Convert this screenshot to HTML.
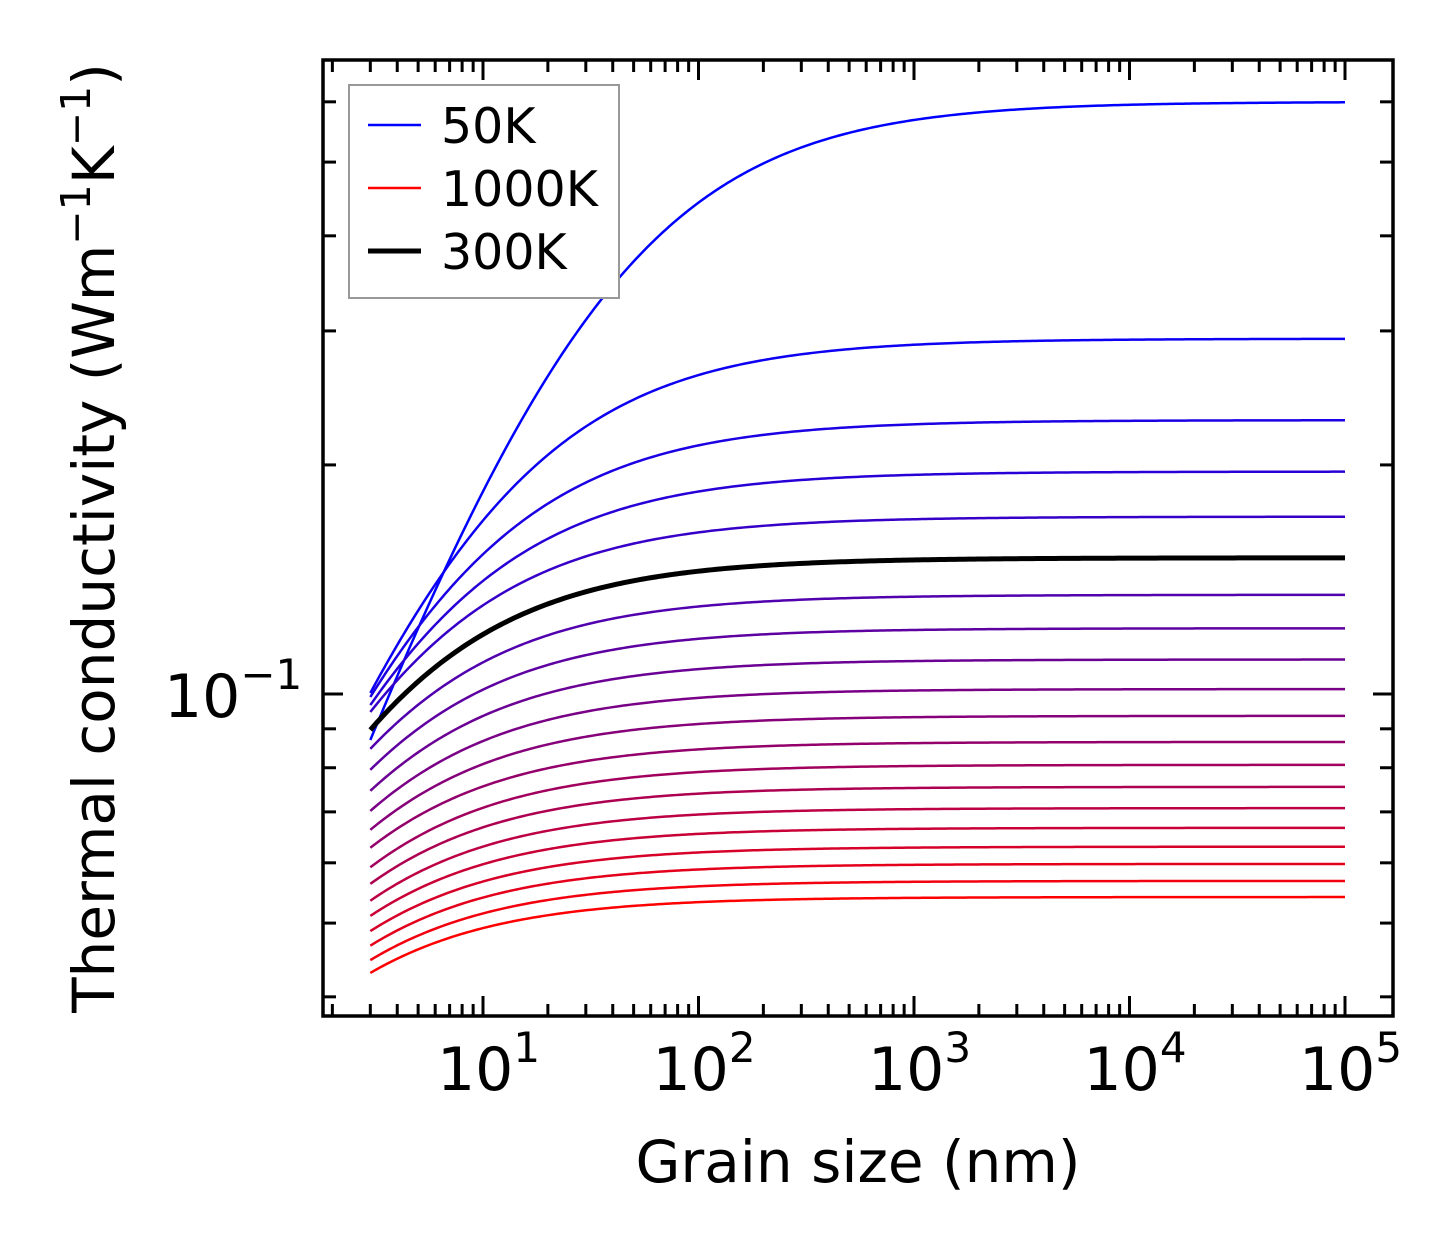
<!DOCTYPE html>
<html><head><meta charset="utf-8"><style>
body{margin:0;background:#fff;}
svg{display:block;font-family:"DejaVu Sans","Liberation Sans",sans-serif;}
</style></head><body>
<svg id="chart" width="1454" height="1254" viewBox="0 0 1454 1254" xmlns="http://www.w3.org/2000/svg">
<rect width="1454" height="1254" fill="#fff"/>
<g id="curves"></g>
<g id="ticks"></g>
<rect x="323" y="60" width="1070" height="956" fill="none" stroke="#000" stroke-width="3.5"/>
<g id="xlabels" font-size="60"></g>
<text x="164" y="717" font-size="60">10<tspan font-size="42" dy="-28">−1</tspan></text>
<text x="858" y="1182" font-size="58" text-anchor="middle">Grain size (nm)</text>
<text transform="translate(114,538) rotate(-90)" font-size="58" text-anchor="middle">Thermal conductivity (Wm<tspan font-size="41" dy="-24">−1</tspan><tspan dy="24">K</tspan><tspan font-size="41" dy="-24">−1</tspan><tspan dy="24">)</tspan></text>
<g>
<rect x="349" y="85" width="270" height="213" fill="#fff" stroke="#999" stroke-width="2"/>
<line x1="368" y1="125" x2="421" y2="125" stroke="#0000ff" stroke-width="2.5"/>
<text x="441" y="143" font-size="49">50K</text>
<line x1="368" y1="188" x2="421" y2="188" stroke="#ff0000" stroke-width="2.5"/>
<text x="441" y="206" font-size="49">1000K</text>
<line x1="368" y1="251" x2="421" y2="251" stroke="#000" stroke-width="5"/>
<text x="441" y="269" font-size="49">300K</text>
</g>
</svg>
<script>
// data: bulk conductivity (at large grain size) and value at 3 nm, per temperature curve (50K ... 1000K)
const kBulk = [0.600,0.293,0.229,0.196,0.171,0.151,0.135,0.122,0.111,0.1015,0.0936,0.0865,0.0807,0.0755,0.0708,0.0667,0.0630,0.0598,0.0568,0.0541];
const kAt3nm = [0.0870,0.1003,0.0991,0.0967,0.0947,0.0897,0.0847,0.0795,0.0746,0.0702,0.0663,0.0628,0.0592,0.0563,0.0535,0.0511,0.0488,0.0467,0.0447,0.0430];
const highlightIndex = 5; // 300K curve
const xTickExps = [1,2,3,4,5];
const yMajorTicks = [0.1];
const yMinorTicks = [0.04,0.05,0.06,0.07,0.08,0.09,0.2,0.3,0.4,0.5,0.6];

const NS="http://www.w3.org/2000/svg";
function xs(v){return 483+(Math.log10(v)-1)*215.5;}
function ys(v){return 694-761*Math.log10(v/0.1);}
const P=0.8, Lmin=3, Lmax=1e5;
const cg=document.getElementById('curves');
const order=[];
for(let i=0;i<kBulk.length;i++) if(i!==highlightIndex) order.push(i);
order.push(highlightIndex);
order.forEach(i=>{
  const kb=kBulk[i], k0=kAt3nm[i];
  const Lc=Lmin*Math.pow(kb/k0-1,1/P);
  let d='';
  for(let s=0;s<=300;s++){
    const L=Math.pow(10,Math.log10(Lmin)+(Math.log10(Lmax)-Math.log10(Lmin))*s/300);
    const k=kb/(1+Math.pow(Lc/L,P));
    d+=(s?'L':'M')+xs(L).toFixed(2)+','+ys(k).toFixed(2);
  }
  const p=document.createElementNS(NS,'path');
  p.setAttribute('d',d);
  const t=i/(kBulk.length-1);
  const col=i===highlightIndex?'#000':'rgb('+Math.round(255*t)+',0,'+Math.round(255*(1-t))+')';
  p.setAttribute('stroke',col);
  p.setAttribute('stroke-width',i===highlightIndex?5:2.5);
  p.setAttribute('fill','none');
  
  
  cg.appendChild(p);
});
const tg=document.getElementById('ticks');
function tick(x1,y1,x2,y2,name){
  const l=document.createElementNS(NS,'line');
  l.setAttribute('x1',x1);l.setAttribute('y1',y1);l.setAttribute('x2',x2);l.setAttribute('y2',y2);
  l.setAttribute('stroke','#000');l.setAttribute('stroke-width',3);
  
  
  tg.appendChild(l);
}
for(let e=0;e<=5;e++){
  for(let m=1;m<=9;m++){
    const v=m*Math.pow(10,e);const x=xs(v);
    if(x<325||x>1391) continue;
    const len=m===1?20:12;
    tick(x,1016,x,1016-len,'x-tick');
    tick(x,60,x,60+len,'x-tick-top');
  }
}
yMajorTicks.forEach(v=>{const y=ys(v);tick(323,y,343,y,'y-tick');tick(1393,y,1373,y,'y-tick-right');});
yMinorTicks.forEach(v=>{const y=ys(v);tick(323,y,336,y,'y-minor-tick');tick(1393,y,1380,y,'y-minor-tick-right');});
const xl=document.getElementById('xlabels');
xTickExps.forEach(e=>{
  const t=document.createElementNS(NS,'text');
  t.setAttribute('x',xs(Math.pow(10,e))-46);t.setAttribute('y',1090);
  
  
  t.innerHTML='10<tspan font-size="42" dy="-28">'+e+'</tspan>';
  xl.appendChild(t);
});
</script>
</body></html>
